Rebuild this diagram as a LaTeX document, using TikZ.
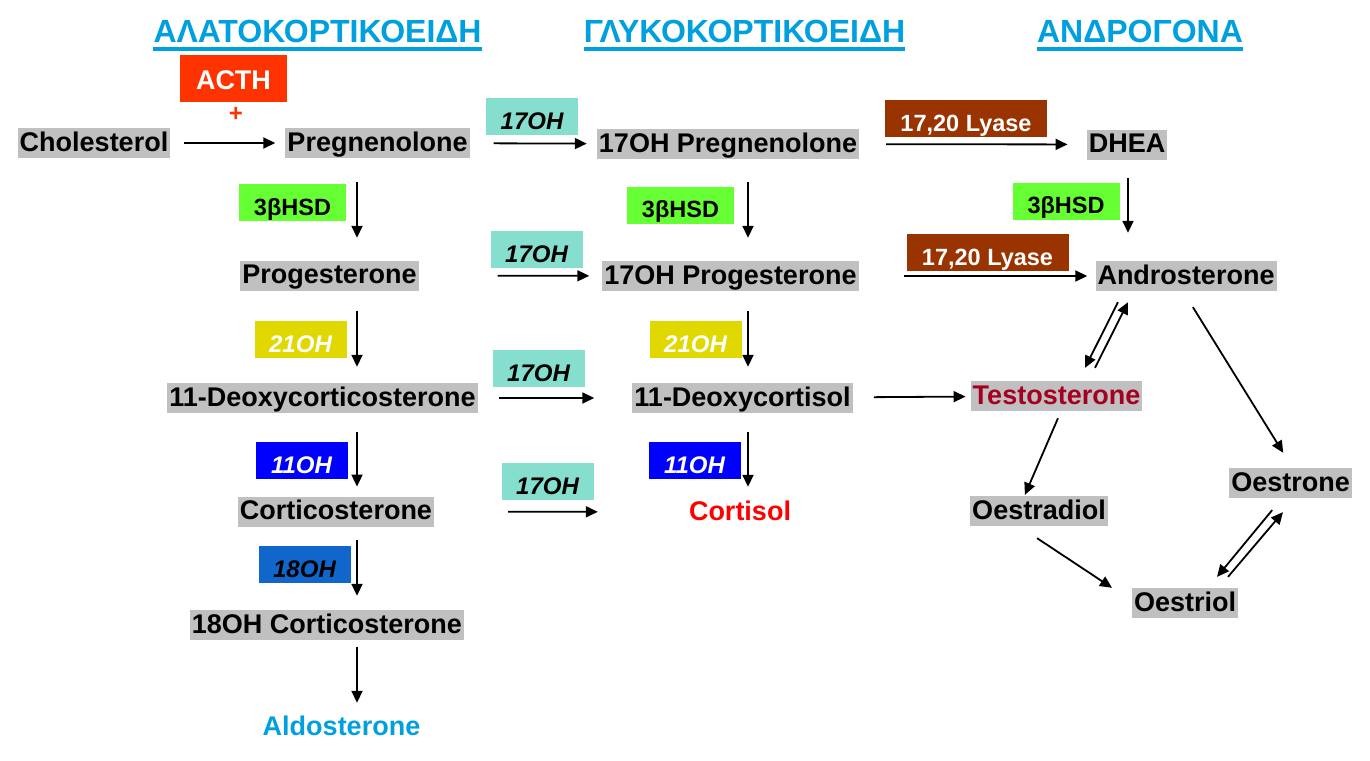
\documentclass[tikz,border=0pt]{standalone}
\usepackage{fontspec}
\setmainfont{Liberation Sans}
\usepackage{tikz}
\usetikzlibrary{arrows.meta}
\definecolor{molgray}{RGB}{192,192,192}
\definecolor{ttlblue}{RGB}{0,160,222}
\definecolor{ohteal}{RGB}{133,222,206}
\definecolor{hsdgreen}{RGB}{102,255,51}
\definecolor{lyasebrown}{RGB}{153,51,0}
\definecolor{ohyellow}{RGB}{224,216,0}
\definecolor{ohblue}{RGB}{0,0,255}
\definecolor{ohdarkblue}{RGB}{17,102,204}
\definecolor{acthred}{RGB}{255,51,0}
\definecolor{testored}{RGB}{165,0,33}

\begin{document}
\begin{tikzpicture}[
  x=1pt, y=-1pt,
  >={Triangle[length=12pt,width=11pt]},
  rx/.style={->, line width=1.8pt},
  mol/.style={fill=molgray, font=\bfseries\fontsize{27}{30}\selectfont, inner xsep=2pt, inner ysep=0pt, text height=23pt, text depth=7pt},
  enz/.style={font=\bfseries\fontsize{23.5}{28}\selectfont, inner sep=0pt, minimum height=37pt, text height=25pt, text depth=0pt},
  oh/.style={enz, font=\bfseries\itshape\fontsize{24}{28}\selectfont, minimum width=92pt},
  hsd/.style={enz, fill=hsdgreen, minimum width=107pt},
  lyase/.style={enz, fill=lyasebrown, text=white, minimum width=162pt},
  ttl/.style={font=\bfseries\fontsize{32}{36}\selectfont, text=ttlblue, inner sep=0pt, anchor=base},
  ul/.style={draw=ttlblue, line width=3.5pt}
  ]
  \useasboundingbox (0,0) rectangle (1370,760);
  \coordinate (ca) at (357,0);
  \coordinate (cb) at (748,0);
  \coordinate (cc) at (1128,0);

  \node[ttl] (ttlA) at (317.5,43) {ΑΛΑΤΟΚΟΡΤΙΚΟΕΙΔΗ};
  \node[ttl] (ttlB) at (744.5,43) {ΓΛΥΚΟΚΟΡΤΙΚΟΕΙΔΗ};
  \node[ttl] (ttlC) at (1140,43) {ΑΝΔΡΟΓΟΝΑ};
  \draw[ul] ([yshift=-6pt]ttlA.base west) -- ([yshift=-6pt]ttlA.base east);
  \draw[ul] ([yshift=-6pt]ttlB.base west) -- ([yshift=-6pt]ttlB.base east);
  \draw[ul] ([yshift=-6pt]ttlC.base west) -- ([yshift=-6pt]ttlC.base east);

  \node[mol] (chol) at (94,143) {Cholesterol};
  \node[mol] (preg) at (377.5,143) {Pregnenolone};
  \node[mol] (ohpreg) at (728,144) {17OH Pregnenolone};
  \node[mol] (dhea) at (1127,144.5) {DHEA};
  \node[mol] (prog) at (329.5,275.5) {Progesterone};
  \node[mol] (ohprog) at (730.5,276) {17OH Progesterone};
  \node[mol] (andro) at (1186,276) {Androsterone};
  \node[mol] (doc) at (322.5,398) {11-Deoxycorticosterone};
  \node[mol] (dcl) at (742.5,398) {11-Deoxycortisol};
  \node[mol, text=testored] (testo) at (1056.5,396) {Testosterone};
  \node[mol] (cort) at (336,511.5) {Corticosterone};
  \node[mol, fill=none, text=red] (cortl) at (740,512) {Cortisol};
  \node[mol] (oestrad) at (1039,511) {Oestradiol};
  \node[mol] (oestrone) at (1290.5,483) {Oestrone};
  \node[mol] (oestriol) at (1185,603) {Oestriol};
  \node[mol] (ohcort) at (327,625) {18OH Corticosterone};
  \node[mol, fill=none, text=ttlblue] (aldo) at (341.5,727) {Aldosterone};

  \node[enz, fill=acthred, text=white, minimum width=107pt, minimum height=47pt, font=\bfseries\fontsize{27}{30}\selectfont, text height=22pt] (acth) at (233.5,78.5) {ACTH};
  \node[font=\bfseries\fontsize{24}{24}\selectfont, text=acthred, inner sep=0pt] (plus) at (236,114) {+};
  \node[oh, fill=ohteal] (h17a) at (532,116.5) {17OH};
  \node[oh, fill=ohteal] (h17b) at (536.5,249.5) {17OH};
  \node[oh, fill=ohteal] (h17c) at (538.5,368.5) {17OH};
  \node[oh, fill=ohteal] (h17d) at (547.5,481.5) {17OH};
  \node[hsd] (hsdA) at (292.5,202.5) {3βHSD};
  \node[hsd] (hsdB) at (680.5,205) {3βHSD};
  \node[hsd] (hsdC) at (1066,201) {3βHSD};
  \node[lyase] (lyA) at (966,118.5) {17,20 Lyase};
  \node[lyase] (lyB) at (987.5,252.5) {17,20 Lyase};
  \node[oh, fill=ohyellow, text=white] (h21a) at (300.5,339.5) {21OH};
  \node[oh, fill=ohyellow, text=white] (h21b) at (695.5,339.5) {21OH};
  \node[oh, fill=ohblue, text=white] (h11a) at (301.5,460.5) {11OH};
  \node[oh, fill=ohblue, text=white] (h11b) at (694.5,460.5) {11OH};
  \node[oh, fill=ohdarkblue] (h18) at (304.5,564.5) {18OH};

  \draw[rx, shorten <=14pt, shorten >=10pt] (chol) -- (preg);
  \draw[rx, shorten <=24pt, shorten >=10pt] (preg) -- (ohpreg);
  \draw[rx, shorten <=27pt, shorten >=19pt] (ohpreg) -- (dhea);
  \draw[rx, shorten <=79pt, shorten >=13pt] (prog) -- (ohprog);
  \draw[rx, shorten <=45pt, shorten >=8pt] (ohprog) -- (andro);
  \draw[rx, shorten <=21pt, shorten >=38pt] (doc) -- (dcl);
  \draw[rx, shorten <=21pt, shorten >=5pt] (dcl) -- (testo);
  \draw[rx, shorten <=74pt, shorten >=89pt] (cort) -- (cortl);

  \draw[rx, shorten <=24pt, shorten >=22.5pt] (preg.south -| ca) -- (prog.north -| ca);
  \draw[rx, shorten <=20.5pt, shorten >=16pt] (prog.south -| ca) -- (doc.north -| ca);
  \draw[rx, shorten <=19pt, shorten >=9.7pt] (doc.south -| ca) -- (cort.north -| ca);
  \draw[rx, shorten <=13.3pt, shorten >=14pt] (cort.south -| ca) -- (ohcort.north -| ca);
  \draw[rx, shorten <=7pt, shorten >=9pt] (ohcort.south -| ca) -- (aldo.north -| ca);
  \draw[rx, shorten <=23pt, shorten >=23pt] (ohpreg.south -| cb) -- (ohprog.north -| cb);
  \draw[rx, shorten <=20pt, shorten >=16pt] (ohprog.south -| cb) -- (dcl.north -| cb);
  \draw[rx, shorten <=19pt, shorten >=10pt] (dcl.south -| cb) -- (cortl.north -| cb);
  \draw[rx, shorten <=18.5pt, shorten >=28pt] (dhea.south -| cc) -- (andro.north -| cc);

  \draw[rx, shorten <=12.3pt, shorten >=14.5pt] ([xshift=-62.5pt]andro.south) -- ([xshift=22pt]testo.north);
  \draw[rx, shorten <=14.5pt, shorten >=12.3pt] ([xshift=32pt]testo.north) -- ([xshift=-52.5pt]andro.south);
  \draw[rx, shorten <=18.8pt, shorten >=17.6pt] ([xshift=-3pt]andro.south) -- ([xshift=2pt]oestrone.north);
  \draw[rx, shorten <=7.6pt, shorten >=1pt] ([xshift=4.5pt]testo.south) -- ([xshift=-14.5pt]oestrad.north);
  \draw[rx, shorten <=21.6pt] ([xshift=-20pt]oestrad.south) -- ([xshift=-73pt]oestriol.north);
  \draw[rx, shorten <=15.5pt, shorten >=14.2pt] ([xshift=-8.5pt]oestrone.south) -- ([xshift=23pt]oestriol.north);
  \draw[rx, shorten <=14.4pt, shorten >=18.3pt] ([xshift=33.7pt]oestriol.north) -- ([xshift=4.3pt]oestrone.south);
\end{tikzpicture}
\end{document}
